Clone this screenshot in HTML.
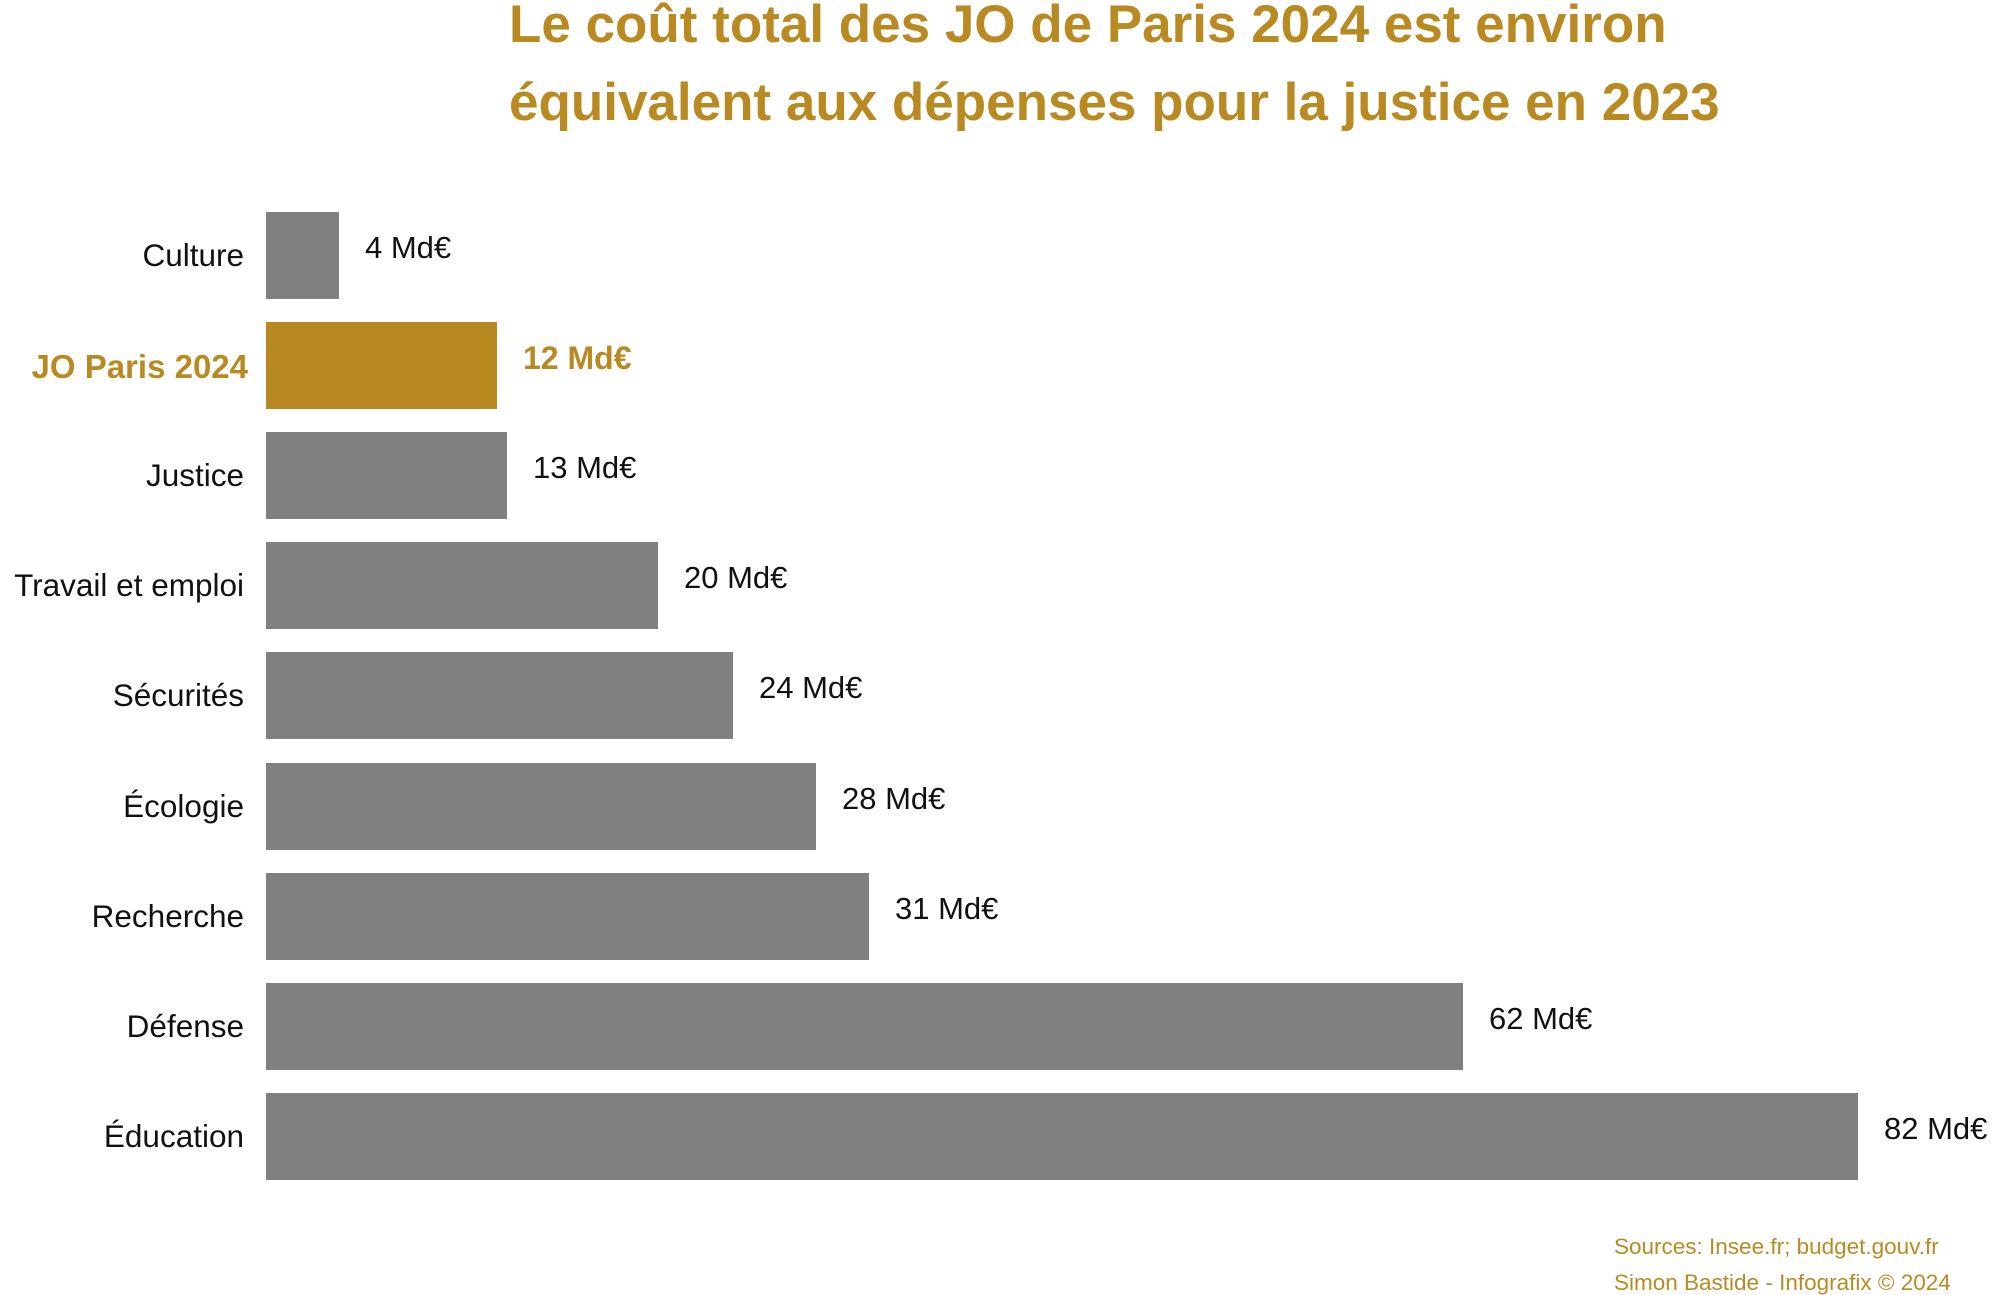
<!DOCTYPE html>
<html><head><meta charset="utf-8"><style>
body{margin:0;width:2000px;height:1292px;background:#fff;font-family:"Liberation Sans",Arial,sans-serif;position:relative;overflow:hidden}
.t{position:absolute;left:509px;color:#B98A22;font-weight:bold;font-size:53px;white-space:nowrap}
.bar{position:absolute;left:266px;height:87px;background:#808080}
.lab{position:absolute;right:1756px;font-size:31.5px;color:#111;white-space:nowrap;line-height:1}
.val{position:absolute;font-size:31px;color:#111;white-space:nowrap;line-height:1}
.f{position:absolute;left:1614px;font-size:22.5px;color:#B98A22;white-space:nowrap;line-height:1}
</style></head><body>
<div class="t" style="top:-6px">Le coût total des JO de Paris 2024 est environ</div>
<div class="t" style="top:72px">équivalent aux dépenses pour la justice en 2023</div>
</body>
<script>
const d=[["Culture",339,"4"],["JO Paris 2024",497,"12"],["Justice",507,"13"],["Travail et emploi",658,"20"],["Sécurités",733,"24"],["Écologie",816,"28"],["Recherche",869,"31"],["Défense",1463,"62"],["Éducation",1858,"82"]];
let h="";
d.forEach((r,i)=>{const top=212+i*110.1;const jo=i==1;
h+=`<div class="bar" style="top:${top}px;width:${r[1]-266}px;${jo?'background:#B98A22':''}"></div>`;
h+=`<div class="lab" style="top:${top+28}px;${jo?'color:#B98A22;font-weight:bold;font-size:33px;right:1752px':''}">${r[0]}</div>`;
h+=`<div class="val" style="top:${top+20}px;left:${r[1]+26}px;${jo?'color:#B98A22;font-weight:bold;font-size:32px':''}">${r[2]} Md€</div>`;});
h+=`<div class="f" style="top:1236px">Sources: Insee.fr; budget.gouv.fr</div><div class="f" style="top:1272px">Simon Bastide - Infografix © 2024</div>`;
document.body.insertAdjacentHTML("beforeend",h);
</script>
</html>
